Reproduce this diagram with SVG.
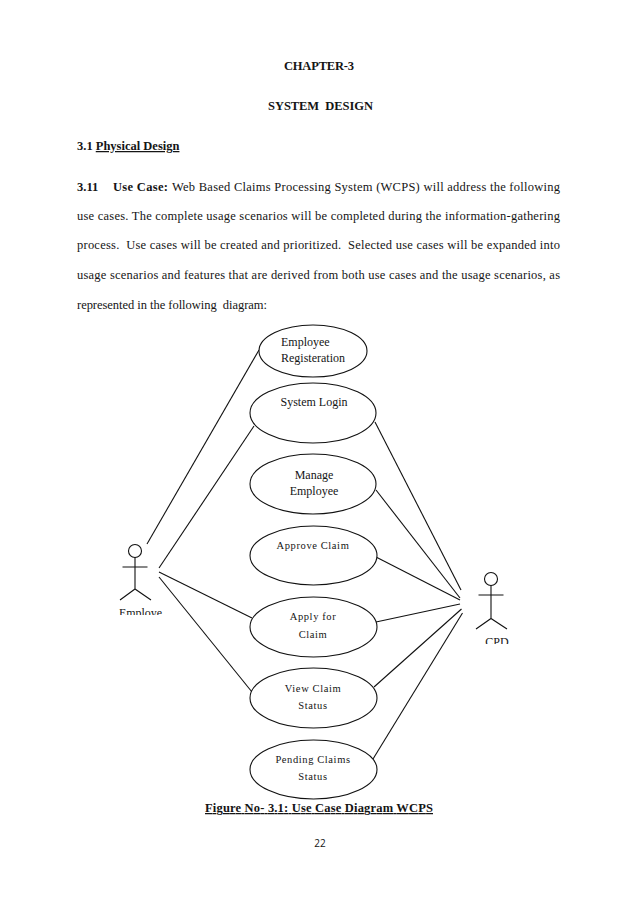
<svg xmlns="http://www.w3.org/2000/svg" width="638" height="903" viewBox="0 0 638 903">
<style>
text{font-family:"Liberation Serif","Times New Roman",serif;fill:#151515;white-space:pre}
.b{font-size:12.5px;font-weight:bold}
.t{font-size:12.5px}
.n{font-size:12px;text-anchor:middle}
.w{font-size:10.5px;text-anchor:middle;letter-spacing:.6px}
.u{text-decoration:underline}
.s{fill:#fff;stroke:#111;stroke-width:1.1}
.c{fill:none;stroke:#111;stroke-width:1.1}
</style>
<defs>
<clipPath id="clipE"><rect x="100" y="600" width="80" height="15"/></clipPath>
<clipPath id="clipC"><rect x="470" y="630" width="50" height="14"/></clipPath>
</defs>
<rect width="638" height="903" fill="#fff"/>
<g id="page-text">
<text class="b" x="284" y="70" textLength="70" lengthAdjust="spacing">CHAPTER-3</text>
<text class="b" x="268" y="110" textLength="105" lengthAdjust="spacing">SYSTEM  DESIGN</text>
<text class="b" x="77" y="150">3.1 <tspan class="u">Physical Design</tspan></text>
<text class="b" x="77" y="191">3.11</text>
<text class="b" x="113" y="191" textLength="55" lengthAdjust="spacing">Use Case:</text>
<text class="t" x="172" y="191" textLength="388" lengthAdjust="spacing">Web Based Claims Processing System (WCPS) will address the following</text>
<text class="t" x="77" y="220" textLength="483" lengthAdjust="spacing">use cases. The complete usage scenarios will be completed during the information-gathering</text>
<text class="t" x="77" y="249" textLength="483" lengthAdjust="spacing">process.  Use cases will be created and prioritized.  Selected use cases will be expanded into</text>
<text class="t" x="77" y="279" textLength="483" lengthAdjust="spacing">usage scenarios and features that are derived from both use cases and the usage scenarios, as</text>
<text class="t" x="77" y="309" textLength="190" lengthAdjust="spacing">represented in the following  diagram:</text>
<text class="b u" x="205" y="812" textLength="228" lengthAdjust="spacing">Figure No- 3.1: Use Case Diagram WCPS</text>
<text x="320" y="847" font-size="10" text-anchor="middle" style="font-family:'Open Sans','Liberation Sans',sans-serif">22</text>
</g>
<g id="connectors">
<path class="c" d="M147 544L259 350"/>
<path class="c" d="M159 568L254 426"/>
<path class="c" d="M159 572L252 618"/>
<path class="c" d="M159 577L252 692"/>
<path class="c" d="M375 422L461 590"/>
<path class="c" d="M376 490L460 598"/>
<path class="c" d="M376 557L460 600"/>
<path class="c" d="M376 622L460 604"/>
<path class="c" d="M374 687L461.500 609"/>
<path class="c" d="M373 759L462.500 613"/>
</g>
<g id="employee-registeration"><ellipse class="s" cx="313" cy="351" rx="54" ry="26"/><text class="n" x="281" y="346" style="text-anchor:start">Employee</text><text class="n" x="281" y="362" style="text-anchor:start">Registeration</text></g>
<g id="system-login"><ellipse class="s" cx="313" cy="413" rx="63" ry="30"/><text class="n" x="314" y="406">System Login</text></g>
<g id="manage-employee"><ellipse class="s" cx="313" cy="484" rx="63" ry="30"/><text class="n" x="314" y="479">Manage</text><text class="n" x="314" y="495">Employee</text></g>
<g id="approve-claim"><ellipse class="s" cx="313.500" cy="555.500" rx="63.500" ry="29.500"/><text class="w" x="313" y="549">Approve Claim</text></g>
<g id="apply-for-claim"><ellipse class="s" cx="313.500" cy="627" rx="63.500" ry="30"/><text class="w" x="313" y="620">Apply for</text><text class="w" x="313" y="638">Claim</text></g>
<g id="view-claim-status"><ellipse class="s" cx="313.500" cy="698" rx="63.500" ry="30"/><text class="w" x="313" y="692">View Claim</text><text class="w" x="313" y="709">Status</text></g>
<g id="pending-claims-status"><ellipse class="s" cx="313.500" cy="769.500" rx="63.500" ry="29.500"/><text class="w" x="313" y="763">Pending Claims</text><text class="w" x="313" y="780">Status</text></g>
<g id="actor-employee">
<circle class="c" cx="135" cy="551" r="6.500"/>
<path class="c" d="M122.500 567H147.500M135 557.500V589M120 600L135 589L151 600"/>
<text class="n" x="119" y="616.500" textLength="43" style="text-anchor:start" clip-path="url(#clipE)">Employe</text>
</g>
<g id="actor-cpd">
<circle class="c" cx="491" cy="579" r="6.500"/>
<path class="c" d="M478.500 595H503.500M491 585.500V618.500M476 629L491 618.500L507 629"/>
<text class="n" x="497" y="645.500" clip-path="url(#clipC)">CPD</text>
</g>
</svg>
